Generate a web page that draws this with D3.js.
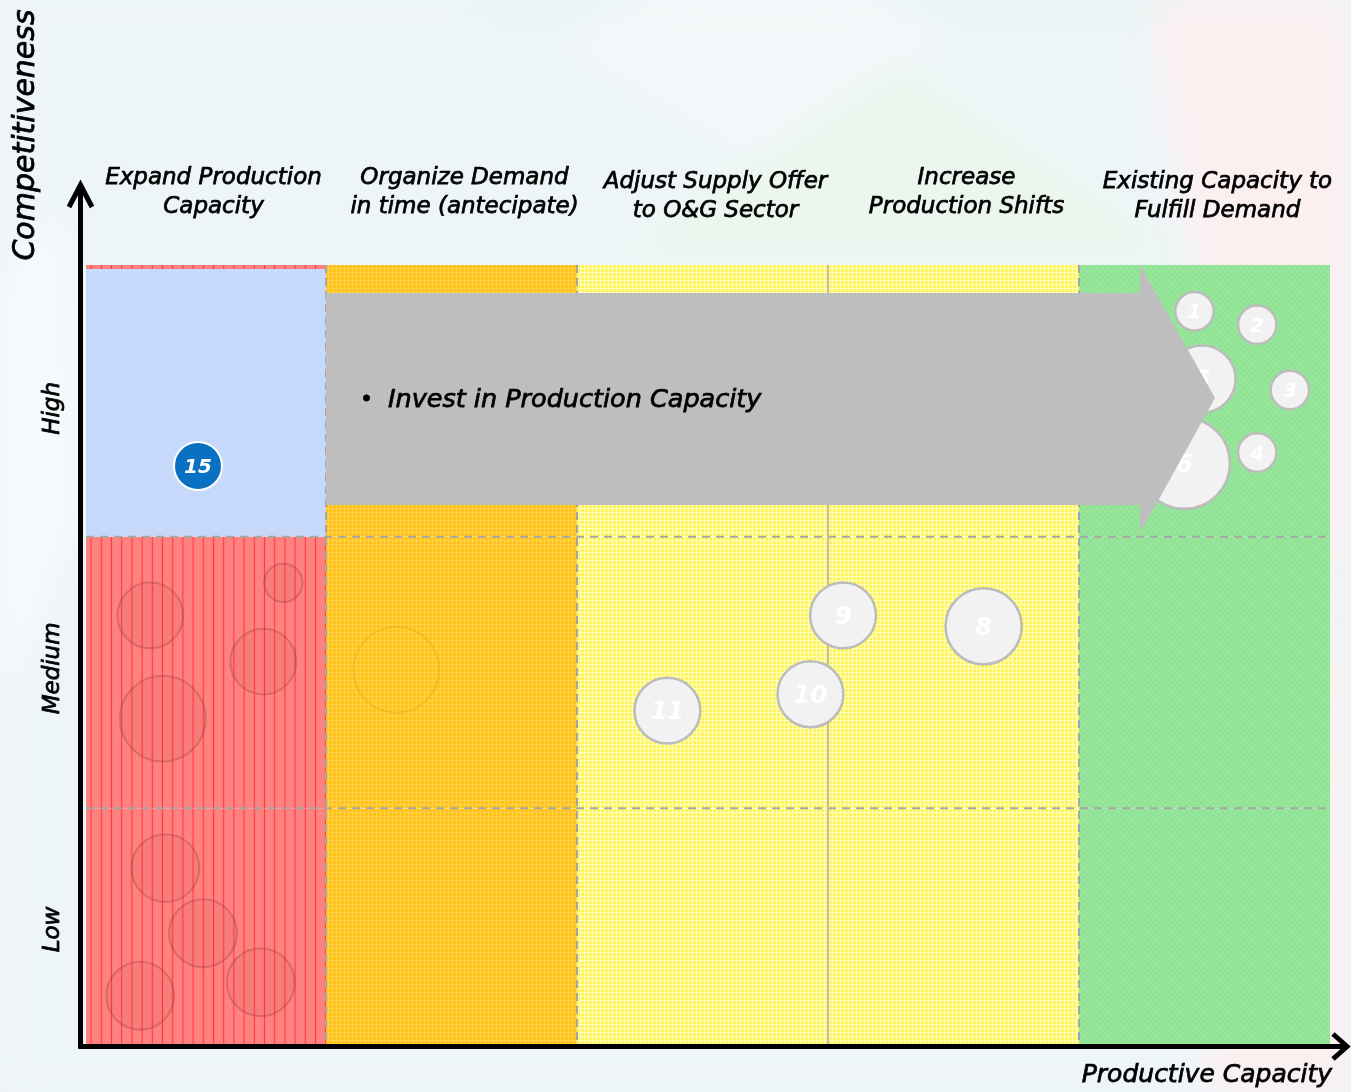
<!doctype html>
<html lang="en">
<head>
<meta charset="utf-8">
<title>Productive Capacity vs Competitiveness</title>
<script src="https://d3js.org/d3.v7.min.js"></script>
<style>
  body { margin: 0; background: #eef5f9; }
  svg { display: block; font-family: "DejaVu Sans", sans-serif; }
  .lbl { font-style: oblique; fill: #000; stroke: #000; stroke-width: 0.75px; }
  .num { font-style: oblique; font-weight: bold; fill: #fff; text-anchor: middle; }
</style>
</head>
<body>
<div id="chart"></div>
<script>
// columns of the matrix (productive capacity) and rows (competitiveness)
var columnTitles = [
  ["Expand Production", "Capacity"],
  ["Organize Demand", "in time (antecipate)"],
  ["Adjust Supply Offer", "to O&G Sector"],
  ["Increase", "Production Shifts"],
  ["Existing Capacity to", "Fulfill Demand"]
];
var columnKind = ["red", "orange", "yellow", "yellow", "green"];
var rowLabels = ["Low", "Medium", "High"];
var rowTickValues = [0.556, 1.517, 2.474];

// numbered companies
var bubbleIds      = ["1", "2", "3", "4", "5", "6", "8", "9", "10", "11"];
var bubbleCapacity = [4.46, 4.71, 4.84, 4.71, 4.49, 4.42, 3.62, 3.06, 2.93, 2.36];
var bubbleCompet   = [2.83, 2.78, 2.54, 2.31, 2.58, 2.27, 1.67, 1.71, 1.42, 1.36];
var bubbleSize     = [16, 16, 16, 16, 49, 90, 63, 47, 47, 47];

// highlighted company
var focusIds      = ["15"];
var focusCapacity = [0.49];
var focusCompet   = [2.26];
var focusSize     = [25];

// faded companies in the red / orange columns
var ghostCapacity = [0.30, 0.83, 0.75, 0.35, 0.36, 0.51, 0.26, 0.74, 1.28];
var ghostCompet   = [1.71, 1.83, 1.54, 1.33, 0.78, 0.54, 0.31, 0.36, 1.51];
var ghostSize     = [47, 16, 47, 80, 50, 50, 50, 50, 80];

var arrowText = "Invest in Production Capacity";

var W = 1351, H = 1092;
var x = d3.scaleLinear().domain([0, 5]).range([75, 1330]);
var y = d3.scaleLinear().domain([0, 3]).range([1080, 265]);
var r = d3.scaleSqrt().domain([0, 100]).range([0, 48]);
var xMin = 0.044, yMin = 0.13;

var svg = d3.select("#chart").append("svg")
    .attr("width", W)
    .attr("height", H);

var defs = svg.append("defs");

// textures
var pRed = defs.append("pattern").attr("id", "pRed")
    .attr("patternUnits", "userSpaceOnUse").attr("width", 10.2).attr("height", 6).attr("x", 86);
pRed.append("rect").attr("width", 10.2).attr("height", 6).attr("fill", "#ff8282");
pRed.append("rect").attr("x", 4.5).attr("width", 1.2).attr("height", 6).attr("fill", "#ff3c3c");

var pOrange = defs.append("pattern").attr("id", "pOrange")
    .attr("patternUnits", "userSpaceOnUse").attr("width", 4).attr("height", 4);
pOrange.append("rect").attr("width", 4).attr("height", 4).attr("fill", "#ffc21a");
pOrange.append("rect").attr("width", 4).attr("height", 1).attr("fill", "#ffd24a");
pOrange.append("rect").attr("width", 1).attr("height", 4).attr("fill", "#ffd24a");

var pYellow = defs.append("pattern").attr("id", "pYellow")
    .attr("patternUnits", "userSpaceOnUse").attr("width", 4).attr("height", 4);
pYellow.append("rect").attr("width", 4).attr("height", 4).attr("fill", "#fff35a");
pYellow.append("rect").attr("width", 4).attr("height", 1.2).attr("fill", "#ffffb8");
pYellow.append("rect").attr("width", 1.2).attr("height", 4).attr("fill", "#ffffb8");

var pGreen = defs.append("pattern").attr("id", "pGreen")
    .attr("patternUnits", "userSpaceOnUse").attr("width", 6).attr("height", 6);
pGreen.append("rect").attr("width", 6).attr("height", 6).attr("fill", "#90e394");
pGreen.append("rect").attr("width", 3).attr("height", 3).attr("fill", "#97e69b");
pGreen.append("rect").attr("x", 3).attr("y", 3).attr("width", 3).attr("height", 3).attr("fill", "#97e69b");

var blur = defs.append("filter").attr("id", "soft").attr("x", "-20%").attr("y", "-20%")
    .attr("width", "140%").attr("height", "140%");
blur.append("feGaussianBlur").attr("stdDeviation", 18);

// faint background shapes
var bg = svg.append("g").attr("filter", "url(#soft)");
bg.append("rect").attr("width", W).attr("height", H).attr("fill", "#eef5f9");
bg.append("path").attr("d", "M480,0 L1290,0 L1290,20 L480,20 Z").attr("fill", "#e4f3ec").attr("opacity", 0.8);
bg.append("path").attr("d", "M560,40 L760,-80 L960,40 L760,160 Z").attr("fill", "#ffffff").attr("opacity", 0.35);
bg.append("path").attr("d", "M600,260 L900,60 L1200,260 Z").attr("fill", "#e9f6ec").attr("opacity", 0.9);
bg.append("path").attr("d", "M1150,0 L1351,0 L1351,1092 L1200,1092 L1290,700 L1200,300 Z").attr("fill", "#fdeeee").attr("opacity", 0.9);
bg.append("path").attr("d", "M1330,560 L1351,540 L1351,900 Z").attr("fill", "#eaf8ee");
bg.append("path").attr("d", "M0,300 L60,200 L70,520 L0,700 Z").attr("fill", "#ffffff").attr("opacity", 0.6);

// matrix cells
var cells = [];
columnKind.forEach(function (k, c) {
  rowLabels.forEach(function (lab, rr) {
    cells.push({ c: c, r: rr, kind: (c === 0 && lab === "High") ? "blue" : k });
  });
});
var fillOf = { red: "url(#pRed)", orange: "url(#pOrange)", yellow: "url(#pYellow)", green: "url(#pGreen)", blue: "#c6d9fb" };

svg.append("g").selectAll("rect")
  .data(cells)
  .enter().append("rect")
    .attr("x", function (d) { return x(Math.max(d.c, xMin)); })
    .attr("y", function (d) { return y(d.r + 1); })
    .attr("width", function (d) { return x(d.c + 1) - x(Math.max(d.c, xMin)); })
    .attr("height", function (d) { return y(Math.max(d.r, yMin)) - y(d.r + 1); })
    .attr("fill", function (d) { return fillOf[d.kind]; });

// thin red band above the blue cell
svg.append("rect")
    .attr("x", x(xMin)).attr("y", y(3))
    .attr("width", x(1) - x(xMin)).attr("height", 4)
    .attr("fill", "url(#pRed)");

// grid lines
var grid = svg.append("g").attr("stroke", "#a6a6a6").attr("stroke-width", 2).attr("fill", "none");
[1, 2].forEach(function (v) {
  grid.append("line")
      .attr("x1", x(xMin)).attr("x2", x(5))
      .attr("y1", y(v)).attr("y2", y(v))
      .attr("stroke-dasharray", "8,6");
});
[1, 2, 3, 4].forEach(function (v) {
  grid.append("line")
      .attr("x1", x(v)).attr("x2", x(v))
      .attr("y1", y(3)).attr("y2", y(yMin))
      .attr("stroke", v === 3 ? "#bdbdbd" : "#a6a6a6")
      .attr("stroke-dasharray", v === 3 ? null : "8,5");
});

// faded bubbles
svg.append("g").selectAll("circle")
  .data(ghostCapacity)
  .enter().append("circle")
    .attr("cx", function (d) { return x(d); })
    .attr("cy", function (d, i) { return y(ghostCompet[i]); })
    .attr("r", function (d, i) { return r(ghostSize[i]); })
    .attr("fill", function (d) { return d > 1 ? "rgba(255,200,40,0.15)" : "rgba(170,60,60,0.07)"; })
    .attr("stroke", function (d) { return d > 1 ? "rgba(225,170,30,0.45)" : "rgba(150,55,55,0.32)"; })
    .attr("stroke-width", 2);

// numbered bubbles
var b = svg.append("g").selectAll("g")
  .data(bubbleIds)
  .enter().append("g")
    .attr("transform", function (d, i) { return "translate(" + x(bubbleCapacity[i]) + "," + y(bubbleCompet[i]) + ")"; });
b.append("circle")
    .attr("r", function (d, i) { return r(bubbleSize[i]); })
    .attr("fill", "#f2f2f2")
    .attr("stroke", "#bcbcbc")
    .attr("stroke-width", 2.5);
b.append("text")
    .attr("class", "num")
    .attr("dy", "0.36em")
    .style("font-size", function (d, i) { return bubbleSize[i] > 20 ? "24px" : "20px"; })
    .text(function (d) { return d; });

// highlighted bubble
var f = svg.append("g").selectAll("g")
  .data(focusIds)
  .enter().append("g")
    .attr("transform", function (d, i) { return "translate(" + x(focusCapacity[i]) + "," + y(focusCompet[i]) + ")"; });
f.append("circle")
    .attr("r", function (d, i) { return r(focusSize[i]); })
    .attr("fill", "#0a70c2")
    .attr("stroke", "#ffffff")
    .attr("stroke-width", 2);
f.append("text")
    .attr("class", "num")
    .attr("dy", "0.36em")
    .style("font-size", "20px")
    .text(function (d) { return d; });

// big grey arrow
var aBodyTop = 2.897, aBodyBot = 2.117, aHeadX = 4.243, aTipX = 4.542, aTipY = 2.51, aHeadBot = 2.013;
var arrowPts = [
  [x(1), y(aBodyTop)], [x(aHeadX), y(aBodyTop)], [x(aHeadX), y(3)],
  [x(aTipX), y(aTipY)], [x(aHeadX), y(aHeadBot)], [x(aHeadX), y(aBodyBot)], [x(1), y(aBodyBot)]
];
svg.append("path")
    .attr("d", d3.line()(arrowPts) + "Z")
    .attr("fill", "#bebebe");

svg.append("text")
    .attr("class", "lbl")
    .attr("x", x(1) + 34).attr("y", y(aTipY) + 8)
    .style("font-size", "22px")
    .style("font-style", "normal")
    .text("\u2022");
svg.append("text")
    .attr("class", "lbl")
    .attr("x", x(1) + 62).attr("y", y(aTipY) + 9)
    .style("font-size", "25.5px")
    .text(arrowText);

// column headers
var headerShift = [0, 0, 4, 0, 4];
var hdr = svg.append("g").selectAll("text")
  .data(columnTitles)
  .enter().append("text")
    .attr("class", "lbl")
    .attr("text-anchor", "middle")
    .style("font-size", "23px")
    .attr("y", function (d, i) { return 184 + headerShift[i]; });
hdr.selectAll("tspan")
  .data(function (d, i) { return d.map(function (t) { return { t: t, c: i }; }); })
  .enter().append("tspan")
    .attr("x", function (d) { return x(d.c + 0.5) + 13; })
    .attr("dy", function (d, j) { return j === 0 ? 0 : 29; })
    .text(function (d) { return d.t; });

// axes
var yAxisScale = y.copy().domain([y.invert(1048), y.invert(186)]).range([1048, 186]);
var yAxis = svg.append("g")
    .attr("transform", "translate(80,0)")
    .call(d3.axisLeft(yAxisScale)
      .tickValues(rowTickValues)
      .tickSize(0)
      .tickSizeOuter(0)
      .tickFormat(function (d, i) { return rowLabels[i]; }));
yAxis.select(".domain").attr("stroke", "#000").attr("stroke-width", 5);
yAxis.selectAll(".tick text")
    .attr("class", "lbl")
    .attr("x", null).attr("dy", null)
    .attr("text-anchor", "middle")
    .attr("transform", "translate(-21,0) rotate(-90)")
    .style("font-size", "23px")
    .style("font-family", "DejaVu Sans, sans-serif");

var xAxisScale = x.copy().domain([x.invert(78), x.invert(1346)]).range([78, 1346]);
var xAxis = svg.append("g")
    .attr("transform", "translate(0,1046)")
    .call(d3.axisBottom(xAxisScale).ticks(0).tickSize(0).tickSizeOuter(0));
xAxis.select(".domain").attr("stroke", "#000").attr("stroke-width", 5);

svg.append("path")
    .attr("d", "M69,207 L80.5,185 L92,207")
    .attr("fill", "none").attr("stroke", "#000").attr("stroke-width", 5)
    .attr("stroke-linejoin", "miter");
svg.append("path")
    .attr("d", "M1333,1034 L1347,1046.5 L1333,1059")
    .attr("fill", "none").attr("stroke", "#000").attr("stroke-width", 5)
    .attr("stroke-linejoin", "miter");

// axis titles
svg.append("text")
    .attr("class", "lbl")
    .attr("text-anchor", "middle")
    .attr("transform", "translate(34,135) rotate(-90)")
    .style("font-size", "30px")
    .text("Competitiveness");

svg.append("text")
    .attr("class", "lbl")
    .attr("text-anchor", "end")
    .attr("x", 1332).attr("y", 1082)
    .style("font-size", "25px")
    .text("Productive Capacity");
</script>
</body>
</html>
